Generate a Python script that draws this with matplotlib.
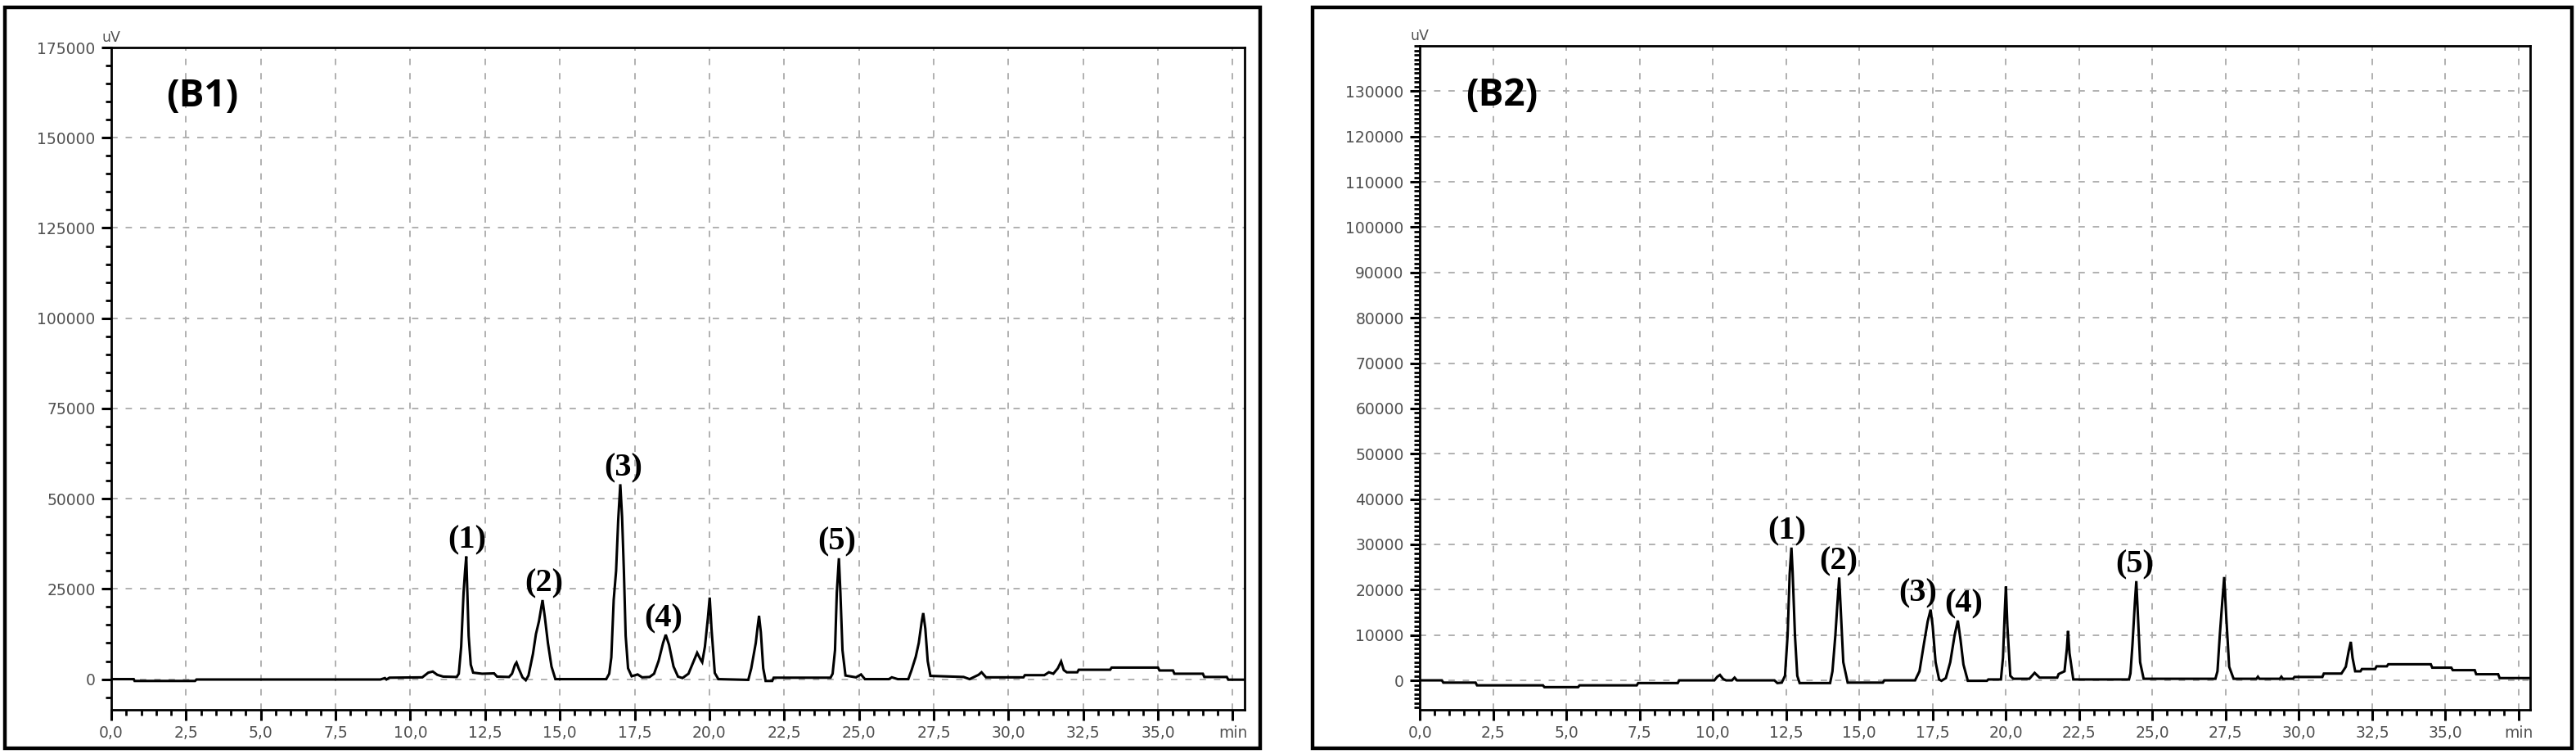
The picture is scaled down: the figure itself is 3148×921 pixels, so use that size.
import numpy as np
import matplotlib
matplotlib.use("Agg")
import matplotlib.pyplot as plt
from matplotlib.patches import Rectangle
from matplotlib.ticker import MultipleLocator

# ---- data (time in min, signal in uV) ----
b1_time = [0.0, 0.75, 0.78, 2.8, 2.85, 9.0, 9.15, 9.2, 9.3, 10.4, 10.6, 10.75, 10.9, 11.1,
           11.55, 11.62, 11.7, 11.78, 11.83, 11.87, 11.9, 11.95, 12.02, 12.1, 12.4, 12.8,
           12.9, 13.3, 13.4, 13.5, 13.55, 13.62, 13.75, 13.86, 13.95, 14.1, 14.2, 14.3,
           14.42, 14.5, 14.6, 14.72, 14.85, 16.55, 16.65, 16.72, 16.8, 16.88, 16.95, 17.02,
           17.08, 17.14, 17.2, 17.28, 17.4, 17.6, 17.75, 18.0, 18.15, 18.3, 18.45, 18.54,
           18.65, 18.8, 18.95, 19.1, 19.3, 19.5, 19.59, 19.7, 19.76, 19.85, 19.95, 20.01,
           20.07, 20.18, 20.3, 21.3, 21.4, 21.55, 21.62, 21.66, 21.72, 21.8, 21.88, 22.1,
           22.15, 24.05, 24.12, 24.2, 24.26, 24.33, 24.38, 24.45, 24.55, 24.9, 25.07, 25.2,
           26.0, 26.1, 26.3, 26.65, 26.76, 26.9, 27.0, 27.1, 27.15, 27.22, 27.3, 27.39,
           28.5, 28.7, 29.0, 29.1, 29.25, 30.5, 30.55, 31.2, 31.35, 31.5, 31.65, 31.76,
           31.85, 31.95, 32.3, 32.35, 33.4, 33.45, 35.0, 35.05, 35.5, 35.55, 36.5, 36.55,
           37.3, 37.35, 38.0]
b1_signal = [0, 0, -500, -500, -100, -100, 300, -100, 400, 500, 1800, 2100, 1200, 700,
             600, 1500, 9000, 24000, 30000, 34000, 26000, 12000, 4000, 1800, 1500, 1600,
             700, 600, 1500, 4000, 4600, 3000, 500, -300, 1000, 7000, 12500, 16000,
             21900, 17000, 10000, 3500, 0, 0, 1500, 6000, 22000, 30000, 44000, 54000,
             45000, 30000, 12000, 3000, 800, 1300, 500, 600, 1500, 5000, 10000, 12300,
             9500, 3500, 700, 300, 1500, 5500, 7300, 5500, 4700, 9000, 17000, 22600,
             14000, 1700, 0, -200, 3000, 10000, 15000, 17500, 13000, 3000, -500, -500,
             400, 400, 1500, 8000, 24000, 33500, 24000, 8000, 1000, 500, 1300, 0,
             0, 500, 0, 0, 2500, 6200, 10000, 16000, 18300, 14000, 5000, 900,
             600, 0, 1200, 1900, 500, 500, 1100, 1100, 1900, 1500, 3000, 4900,
             2500, 1900, 1900, 2600, 2600, 3200, 3200, 2400, 2400, 1500, 1500, 600,
             600, -150, -150]

b2_time = [0.0, 0.75, 0.8, 1.9, 1.95, 4.2, 4.25, 5.4, 5.45, 7.4, 7.45, 8.8, 8.85, 10.05,
           10.15, 10.24, 10.35, 10.45, 10.65, 10.74, 10.82, 12.1, 12.2, 12.35, 12.46, 12.55,
           12.62, 12.68, 12.72, 12.8, 12.88, 12.96, 14.0, 14.08, 14.18, 14.25, 14.31, 14.36,
           14.45, 14.6, 15.8, 15.85, 16.9, 17.05, 17.2, 17.33, 17.43, 17.5, 17.6, 17.72,
           17.8, 17.95, 18.1, 18.25, 18.36, 18.45, 18.55, 18.7, 19.35, 19.4, 19.83, 19.9,
           19.96, 20.0, 20.05, 20.15, 20.25, 20.8, 20.98, 21.15, 21.75, 21.8, 22.0, 22.08,
           22.12, 22.17, 22.3, 24.2, 24.25, 24.32, 24.4, 24.45, 24.5, 24.58, 24.7, 27.15,
           27.22, 27.3, 27.38, 27.45, 27.52, 27.62, 27.77, 28.55, 28.6, 28.65, 29.35, 29.4,
           29.45, 29.8, 29.85, 30.8, 30.85, 31.45, 31.6, 31.7, 31.77, 31.83, 31.92, 32.1,
           32.15, 32.6, 32.65, 33.0, 33.05, 34.5, 34.55, 35.2, 35.25, 36.0, 36.05, 36.8,
           36.85, 38.0]
b2_signal = [0, 0, -500, -500, -1100, -1100, -1500, -1500, -1100, -1100, -600, -600, 0, 0,
             800, 1200, 300, 0, 0, 600, 0, 0, -600, -500, 1000, 10000,
             23500, 29300, 24000, 10000, 1000, -600, -600, 2000, 10000, 17000, 22700, 16000,
             4000, -500, -500, 0, 0, 2000, 8000, 13000, 15600, 12000, 4000, 200,
             -100, 500, 4000, 10000, 13200, 9000, 3500, -100, -100, 200, 200, 5000,
             15000, 20700, 12000, 1000, 350, 350, 1650, 600, 600, 1400, 2000, 7000,
             10900, 6000, 200, 200, 1500, 8000, 17000, 21900, 15000, 4000, 350, 350,
             2000, 10000, 17000, 22800, 14000, 3000, 350, 350, 800, 350, 350, 800,
             350, 350, 750, 750, 1500, 1500, 3000, 6500, 8500, 5000, 2000, 2000,
             2500, 2500, 3100, 3100, 3550, 3550, 2800, 2800, 2250, 2250, 1350, 1350,
             500, 500]

peak_names = ["(1)", "(2)", "(3)", "(4)", "(5)"]
b1_peak_time = [11.87, 14.42, 17.02, 18.54, 24.33]
b2_peak_time = [12.68, 14.31, 17.43, 18.36, 24.45]

x_ticks = np.arange(0, 37.6, 2.5)
x_labels = [f"{v:.1f}".replace(".", ",") for v in x_ticks[:-1]] + ["min"]

TICK_FONT = ["Liberation Sans Narrow", "DejaVu Sans"]
GRAY = "#505050"


def draw_panel(ax, t, s, ylim, ymajor, yminor, ytop_label, tag, tag_xy,
               peak_t, label_dx):
    ax.plot(t, s, color="black", lw=2.2, solid_joinstyle="miter")
    ax.set_xlim(0, 37.9)
    ax.set_ylim(*ylim)

    ax.set_xticks(x_ticks)
    ax.set_xticklabels(x_labels)
    ax.xaxis.set_minor_locator(MultipleLocator(0.5))
    yt = np.arange(0, ytop_label + 1, ymajor)
    ax.set_yticks(yt)
    ax.set_yticklabels([f"{int(v)}" for v in yt])
    ax.yaxis.set_minor_locator(MultipleLocator(yminor))

    ax.tick_params(which="major", direction="out", length=9, width=2.2,
                   labelsize=13.5, labelcolor=GRAY, pad=5)
    ax.tick_params(which="minor", direction="out", length=5, width=2.0)
    for lab in ax.get_xticklabels() + ax.get_yticklabels():
        lab.set_family(TICK_FONT)

    ax.grid(True, which="major", linestyle=(0, (4, 5)), color="#b0b0b0", lw=1.4)
    for side in ax.spines.values():
        side.set_linewidth(2.0)
        side.set_color("black")

    ax.text(0.0, 1.004, "uV", transform=ax.transAxes, ha="center", va="bottom",
            fontsize=12.5, color=GRAY, family=TICK_FONT)
    ax.text(tag_xy[0], tag_xy[1], tag, transform=ax.transAxes, ha="center",
            va="center", fontsize=33, fontweight="bold",
            family=["Open Sans", "DejaVu Sans"])

    t_arr = np.asarray(t)
    s_arr = np.asarray(s)
    for name, pt, dx in zip(peak_names, peak_t, label_dx):
        top = s_arr[np.argmin(np.abs(t_arr - pt))]
        ax.annotate(name, (pt + dx, top), xytext=(0, 1), textcoords="offset points",
                    ha="center", va="bottom", fontsize=29, fontweight="bold",
                    family=["Liberation Serif", "DejaVu Serif"])


fig = plt.figure(figsize=(31.48, 9.21), dpi=100)

ax1 = fig.add_axes([0.0432, 0.0586, 0.4400, 0.8784])
draw_panel(ax1, b1_time, b1_signal, (-8500, 175000), 25000, 5000, 175000,
           "(B1)", (0.080, 0.927), b1_peak_time, [0.03, 0.05, 0.1, -0.07, -0.06])

ax2 = fig.add_axes([0.5512, 0.0586, 0.4311, 0.8806])
draw_panel(ax2, b2_time, b2_signal, (-6500, 140000), 10000, 1000, 130000,
           "(B2)", (0.074, 0.925), b2_peak_time, [-0.15, -0.02, -0.43, 0.19, -0.05])

# outer frames around each panel
for x0, x1 in [(6, 1540), (1604, 3143)]:
    fig.patches.append(Rectangle((x0 / 3148, 7 / 921), (x1 - x0) / 3148, (914 - 9) / 921,
                                 transform=fig.transFigure, fill=False, lw=3.2,
                                 ec="black"))

fig.savefig("out.png", dpi=100, facecolor="white")
